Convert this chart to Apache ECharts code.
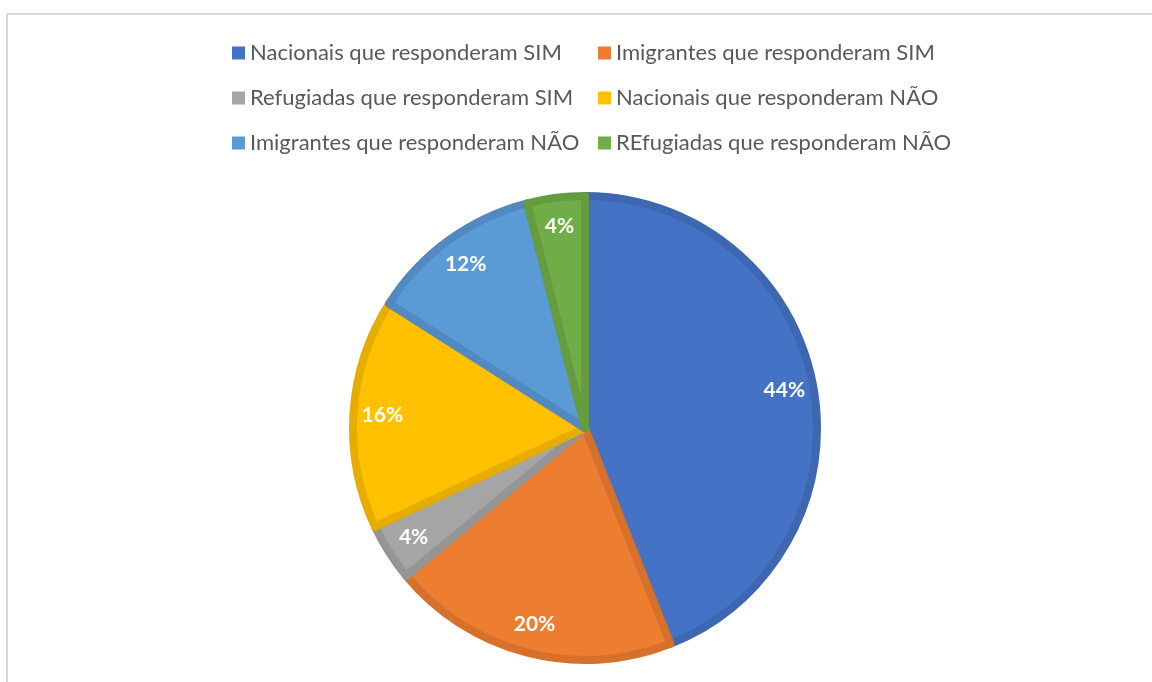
<!DOCTYPE html>
<html>
<head>
<meta charset="utf-8">
<script src="https://cdn.jsdelivr.net/npm/echarts@6/dist/echarts.min.js"></script>
<style>
  html, body { margin: 0; padding: 0; background: #fff; }
  #main { width: 1152px; height: 682px; }
</style>
</head>
<body>
<div id="main"></div>
<script>
var categories = [
    'Nacionais que responderam SIM',
    'Imigrantes que responderam SIM',
    'Refugiadas que responderam SIM',
    'Nacionais que responderam NÃO',
    'Imigrantes que responderam NÃO',
    'REfugiadas que responderam NÃO'
];
var values = [44, 20, 4, 16, 12, 4];
var colors = ['#4472C4', '#ED7D31', '#A5A5A5', '#FFC000', '#5B9BD5', '#70AD47'];
var borderColors = ['#3E67B1', '#D6712C', '#959595', '#E6AD00', '#5289C0', '#659C40'];

var myChart = echarts.init(document.getElementById('main'));

var pieData = categories.map(function(name, i) {
    return {
        name: name,
        value: values[i],
        itemStyle: { color: colors[i], borderColor: borderColors[i] }
    };
});

var labelData = categories.map(function(name, i) {
    return { name: name, value: values[i] };
});

var legendText = {
    color: '#595959',
    fontFamily: 'Lato',
    fontSize: 22,
    lineHeight: 24
};

var option = {
    animation: false,
    color: colors,
    graphic: [{
        type: 'rect',
        silent: true,
        shape: { x: 7, y: 14, width: 1200, height: 720 },
        style: { fill: 'none', stroke: '#d9d9d9', lineWidth: 2 }
    }],
    legend: [{
        orient: 'vertical',
        left: 232,
        top: 41,
        padding: 0,
        itemGap: 21,
        itemWidth: 13,
        itemHeight: 13,
        icon: 'rect',
        itemStyle: { borderWidth: 0 },
        data: [categories[0], categories[2], categories[4]],
        textStyle: legendText
    }, {
        orient: 'vertical',
        left: 598,
        top: 41,
        padding: 0,
        itemGap: 21,
        itemWidth: 13,
        itemHeight: 13,
        icon: 'rect',
        itemStyle: { borderWidth: 0 },
        data: [categories[1], categories[3], categories[5]],
        textStyle: legendText
    }],
    series: [{
        name: 'pie',
        type: 'pie',
        center: [585, 428],
        radius: [0, 232],
        startAngle: 90,
        clockwise: true,
        label: { show: false },
        labelLine: { show: false },
        itemStyle: { borderWidth: 8 },
        emphasis: { disabled: true },
        data: pieData
    }, {
        name: 'labels',
        type: 'pie',
        center: [585, 428],
        radius: [168, 232],
        startAngle: 90,
        clockwise: true,
        silent: true,
        legendHoverLink: false,
        avoidLabelOverlap: false,
        itemStyle: { color: 'transparent', borderWidth: 0 },
        label: {
            show: true,
            position: 'inside',
            formatter: '{c}%',
            color: '#fff',
            fontFamily: 'Lato',
            fontWeight: 'bold',
            fontSize: 21
        },
        labelLine: { show: false },
        emphasis: { disabled: true },
        data: labelData
    }]
};

myChart.setOption(option);
</script>
</body>
</html>
